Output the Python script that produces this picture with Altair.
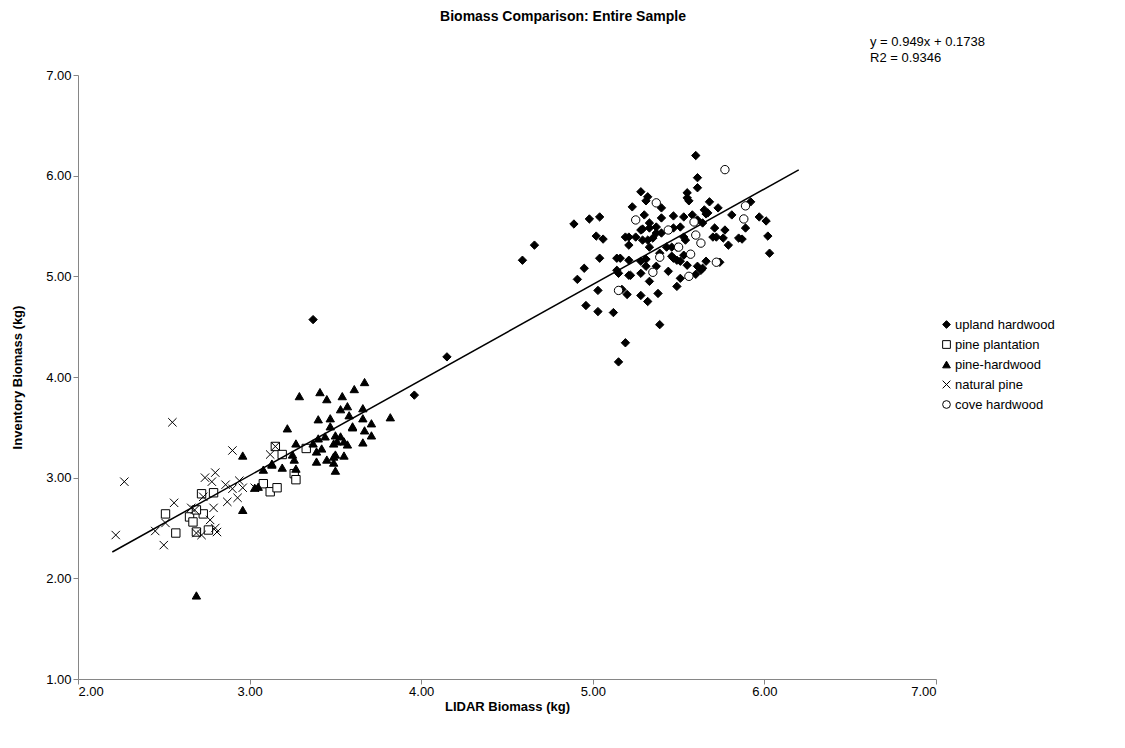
import altair as alt
import pandas as pd

categories = ["upland hardwood", "pine plantation", "pine-hardwood", "natural pine", "cove hardwood"]

# upland hardwood (filled diamonds)
uh_x = [3.37, 3.96, 4.15, 4.59, 4.66, 4.96, 5.03, 5.12, 5.39, 5.19, 5.15, 5.32,
        5.60, 5.61, 5.61, 5.28, 5.32, 5.31, 5.23, 5.40, 5.55, 5.55, 5.56, 5.68,
        5.73, 5.65, 5.67, 5.81, 4.89, 4.98, 5.04, 5.30, 5.40, 5.47, 5.53, 5.58,
        5.61, 5.64, 5.02, 5.06, 5.19, 5.21, 5.25, 5.28, 5.33, 5.37, 5.29, 5.35,
        5.40, 5.47, 5.51, 5.53, 5.49, 5.43, 5.39, 5.33, 5.16, 5.21, 5.14, 5.28,
        5.31, 5.37, 5.44, 5.46, 5.51, 5.55, 5.61, 5.66, 5.71, 5.77, 5.72, 5.79,
        5.85, 4.95, 4.91, 5.04, 5.21, 5.28, 5.33, 5.51, 5.49, 5.60, 5.63, 5.03,
        5.17, 5.20, 5.28, 5.38, 5.92, 5.89, 5.97, 6.01, 6.02, 6.03, 5.87, 5.74,
        5.21, 5.29, 5.33, 5.37, 5.32, 5.14, 5.15, 5.22, 5.49, 5.31, 5.66, 5.70,
        5.76, 5.53, 5.47, 5.64, 5.54, 5.46]
uh_y = [4.57, 3.82, 4.20, 5.16, 5.31, 4.71, 4.65, 4.64, 4.52, 4.34, 4.15, 4.75,
        6.20, 5.98, 5.88, 5.84, 5.79, 5.75, 5.69, 5.68, 5.83, 5.78, 5.75, 5.74,
        5.68, 5.66, 5.63, 5.61, 5.52, 5.57, 5.59, 5.61, 5.58, 5.60, 5.59, 5.61,
        5.56, 5.53, 5.40, 5.37, 5.39, 5.31, 5.39, 5.46, 5.48, 5.49, 5.36, 5.38,
        5.43, 5.48, 5.49, 5.39, 5.29, 5.29, 5.23, 5.29, 5.18, 5.16, 5.06, 5.15,
        5.10, 5.10, 5.05, 5.20, 5.15, 5.11, 5.10, 5.15, 5.48, 5.46, 5.39, 5.31,
        5.38, 5.08, 4.97, 5.18, 5.01, 5.03, 4.95, 4.98, 4.90, 5.02, 5.06, 4.86,
        4.87, 4.82, 4.81, 4.83, 5.74, 5.48, 5.59, 5.55, 5.40, 5.23, 5.37, 5.14,
        5.39, 5.47, 5.53, 5.43, 5.36, 5.18, 5.03, 5.01, 5.16, 5.17, 5.62, 5.39,
        5.38, 5.21, 5.18, 5.08, 5.36, 5.29]

# pine plantation (open squares)
pp_x = [2.51, 2.57, 2.72, 2.79, 2.73, 2.65, 2.67, 2.69, 2.76, 2.69,
        3.15, 3.19, 3.33, 3.08, 3.12, 3.16, 3.26, 3.27]
pp_y = [2.64, 2.45, 2.84, 2.85, 2.64, 2.61, 2.56, 2.46, 2.48, 2.68,
        3.31, 3.23, 3.29, 2.94, 2.86, 2.90, 3.04, 2.98]

# pine-hardwood (filled triangles)
ph_x = [3.29, 3.41, 3.45, 3.54, 3.61, 3.67, 3.82, 3.22, 3.40, 3.47, 3.53, 3.57,
        3.58, 3.66, 3.66, 3.71, 3.60, 3.67, 3.71, 3.66, 3.47, 3.40, 3.44, 3.50,
        3.53, 3.55, 3.57, 3.51, 3.49, 3.42, 3.39, 3.39, 3.45, 3.50, 3.55, 3.49,
        3.50, 3.27, 3.25, 3.26, 3.19, 3.27, 3.08, 3.13, 3.03, 3.05, 3.37, 2.96,
        2.96, 2.69, 3.49, 3.60, 3.13]
ph_y = [3.81, 3.85, 3.78, 3.81, 3.88, 3.95, 3.60, 3.49, 3.58, 3.59, 3.68, 3.71,
        3.62, 3.69, 3.59, 3.54, 3.50, 3.47, 3.42, 3.35, 3.51, 3.39, 3.41, 3.42,
        3.41, 3.36, 3.33, 3.36, 3.34, 3.29, 3.26, 3.16, 3.18, 3.23, 3.22, 3.15,
        3.07, 3.34, 3.23, 3.18, 3.10, 3.09, 3.08, 3.13, 2.90, 2.91, 3.34, 3.22,
        2.68, 1.83, 3.21, 3.51, 3.14]

# natural pine (crosses)
np_x = [2.55, 2.27, 2.22, 2.50, 2.45, 2.56, 2.90, 2.74, 2.80, 2.78, 2.86, 2.90,
        2.94, 2.96, 2.93, 2.87, 2.79, 2.73, 2.66, 2.51, 2.69, 2.72, 2.80, 2.81,
        2.77, 2.68, 3.03, 3.15, 3.12]
np_y = [3.55, 2.96, 2.43, 2.33, 2.47, 2.75, 3.27, 3.00, 3.05, 2.96, 2.93, 2.89,
        2.97, 2.90, 2.80, 2.76, 2.70, 2.81, 2.70, 2.55, 2.45, 2.43, 2.50, 2.46,
        2.58, 2.68, 2.90, 3.31, 3.23]

# cove hardwood (open circles)
ch_x = [5.77, 5.89, 5.88, 5.37, 5.25, 5.44, 5.59, 5.50, 5.60, 5.63, 5.57, 5.39,
        5.35, 5.56, 5.72, 5.15]
ch_y = [6.06, 5.70, 5.57, 5.73, 5.56, 5.46, 5.54, 5.29, 5.41, 5.33, 5.22, 5.19,
        5.04, 5.00, 5.14, 4.86]

slope = 0.949
intercept = 0.1738
trend_x = [2.20, 6.20]
equation_lines = ["y = 0.949x + 0.1738", "R2 = 0.9346"]
title_text = "Biomass Comparison: Entire Sample"

shapes = ["diamond", "square", "triangle-up", "M-1,-1L1,1M-1,1L1,-1", "circle"]
fills = ["black", "white", "black", "transparent", "white"]

rows = []
for cat, xs, ys in zip(categories,
                       [uh_x, pp_x, ph_x, np_x, ch_x],
                       [uh_y, pp_y, ph_y, np_y, ch_y]):
    for xv, yv in zip(xs, ys):
        rows.append({"type": cat, "lidar": xv, "inv": yv})
df = pd.DataFrame(rows)

trend = pd.DataFrame({"lidar": trend_x, "inv": [slope * v + intercept for v in trend_x]})
eq_df = pd.DataFrame({"label": ["\n".join(equation_lines)]})
title_df = pd.DataFrame({"label": [title_text]})

FONT = "Liberation Sans"
xscale = alt.Scale(domain=[2, 7], nice=False, zero=False)
yscale = alt.Scale(domain=[1, 7], nice=False, zero=False)

xaxis = alt.Axis(title="LIDAR Biomass (kg)", values=[2, 3, 4, 5, 6, 7], format=".2f",
                 grid=False, tickSize=5, labelPadding=1, titleX=429, titleY=27,
                 titleBaseline="middle", titleAlign="center")
yaxis = alt.Axis(title="Inventory Biomass (kg)", values=[1, 2, 3, 4, 5, 6, 7], format=".2f",
                 grid=False, tickSize=5, labelPadding=2, titleAngle=-90, titleX=-61,
                 titleY=302, titleBaseline="middle", titleAlign="center")

legend = alt.Legend(title=None, orient="none", legendX=862, legendY=243,
                    labelFontSize=13, labelFont=FONT, labelColor="black",
                    symbolSize=60, symbolStrokeColor="black", symbolStrokeWidth=1,
                    rowPadding=6, labelOffset=2, padding=0)

points = alt.Chart(df).mark_point(strokeWidth=1, size=70, opacity=1).encode(
    x=alt.X("lidar:Q", scale=xscale, axis=xaxis),
    y=alt.Y("inv:Q", scale=yscale, axis=yaxis),
    shape=alt.Shape("type:N", scale=alt.Scale(domain=categories, range=shapes), legend=legend),
    fill=alt.Fill("type:N", scale=alt.Scale(domain=categories, range=fills), legend=legend),
    stroke=alt.Stroke("type:N", scale=alt.Scale(domain=categories, range=["black"] * 5),
                      legend=legend),
)

line = alt.Chart(trend).mark_line(color="black", strokeWidth=1.5).encode(
    x=alt.X("lidar:Q", scale=xscale),
    y=alt.Y("inv:Q", scale=yscale),
)

eq_text = alt.Chart(eq_df).mark_text(align="left", baseline="middle", lineBreak="\n",
                                     lineHeight=16, fontSize=13, font=FONT,
                                     color="black").encode(
    x=alt.value(792), y=alt.value(-33), text="label:N")

title_mark = alt.Chart(title_df).mark_text(align="center", baseline="middle", fontSize=14,
                                           fontWeight="bold", font=FONT,
                                           color="black").encode(
    x=alt.value(485), y=alt.value(-58), text="label:N")

chart = alt.layer(points, line, eq_text, title_mark).properties(
    width=858, height=604,
    autosize="none",
    padding={"left": 70, "top": 67, "right": 180, "bottom": 60},
).configure_view(stroke=None).configure_axis(
    labelFont=FONT, labelFontSize=13, labelColor="black",
    titleFont=FONT, titleFontSize=13, titleFontWeight="bold", titleColor="black",
    domainColor="#868686", tickColor="#868686", domainWidth=1, tickWidth=1,
)

chart.save("out.html", embed_options={"renderer": "svg", "actions": False})
